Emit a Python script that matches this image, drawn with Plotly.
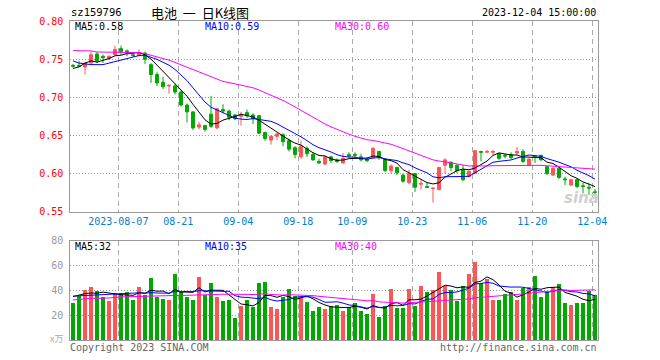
import plotly.graph_objects as go

# ---------------- data ----------------
opens = [0.742, 0.742, 0.740, 0.745, 0.757, 0.754, 0.751, 0.756, 0.764, 0.761,
         0.756, 0.755, 0.758, 0.743, 0.730, 0.720, 0.715, 0.715, 0.707, 0.690,
         0.681, 0.661, 0.663, 0.678, 0.660, 0.684, 0.682, 0.677, 0.675, 0.680,
         0.677, 0.676, 0.654, 0.644, 0.649, 0.651, 0.643, 0.634, 0.622, 0.633,
         0.625, 0.616, 0.6125, 0.622, 0.618, 0.614, 0.625, 0.625, 0.622, 0.619,
         0.621, 0.629, 0.619, 0.604, 0.608, 0.598, 0.588, 0.600, 0.586, 0.583,
         0.5805, 0.579, 0.611, 0.615, 0.611, 0.605, 0.596, 0.600, 0.629, 0.628,
         0.628, 0.626, 0.624, 0.625, 0.627, 0.629, 0.611, 0.623, 0.624, 0.609,
         0.598, 0.607, 0.593, 0.585, 0.592, 0.584, 0.582, 0.576]
highs = [0.744, 0.748, 0.746, 0.760, 0.759, 0.756, 0.755, 0.768, 0.768, 0.763,
         0.758, 0.763, 0.760, 0.745, 0.733, 0.727, 0.716, 0.718, 0.709, 0.692,
         0.682, 0.668, 0.664, 0.702, 0.686, 0.691, 0.684, 0.678, 0.681, 0.684,
         0.679, 0.677, 0.655, 0.650, 0.653, 0.653, 0.646, 0.636, 0.643, 0.636,
         0.628, 0.6195, 0.623, 0.623, 0.620, 0.627, 0.628, 0.628, 0.626, 0.621,
         0.635, 0.630, 0.620, 0.612, 0.609, 0.600, 0.605, 0.601, 0.592, 0.588,
         0.581, 0.609, 0.620, 0.616, 0.612, 0.611, 0.603, 0.631, 0.630, 0.631,
         0.631, 0.627, 0.626, 0.628, 0.635, 0.632, 0.620, 0.624, 0.625, 0.610,
         0.608, 0.608, 0.596, 0.593, 0.593, 0.588, 0.587, 0.580]
lows = [0.739, 0.740, 0.730, 0.744, 0.745, 0.745, 0.749, 0.755, 0.756, 0.754,
        0.753, 0.754, 0.744, 0.719, 0.715, 0.711, 0.705, 0.704, 0.688, 0.667,
        0.657, 0.658, 0.655, 0.660, 0.658, 0.679, 0.670, 0.670, 0.663, 0.673,
        0.665, 0.652, 0.643, 0.638, 0.644, 0.636, 0.629, 0.620, 0.619, 0.622,
        0.617, 0.6125, 0.611, 0.614, 0.614, 0.613, 0.621, 0.619, 0.616, 0.615,
        0.620, 0.618, 0.602, 0.600, 0.598, 0.588, 0.586, 0.576, 0.579, 0.581,
        0.562, 0.578, 0.600, 0.603, 0.601, 0.590, 0.595, 0.600, 0.616, 0.627,
        0.624, 0.618, 0.620, 0.619, 0.625, 0.614, 0.610, 0.614, 0.617, 0.598,
        0.597, 0.593, 0.585, 0.584, 0.581, 0.574, 0.572, 0.570]
closes = [0.741, 0.741, 0.745, 0.756, 0.748, 0.752, 0.754, 0.763, 0.760, 0.758,
          0.755, 0.758, 0.750, 0.730, 0.719, 0.714, 0.716, 0.707, 0.690, 0.681,
          0.660, 0.664, 0.658, 0.662, 0.685, 0.682, 0.674, 0.672, 0.677, 0.676,
          0.672, 0.653, 0.646, 0.649, 0.652, 0.642, 0.632, 0.625, 0.636, 0.626,
          0.618, 0.614, 0.622, 0.617, 0.616, 0.620, 0.623, 0.624, 0.618, 0.617,
          0.633, 0.621, 0.604, 0.610, 0.601, 0.590, 0.600, 0.582, 0.587, 0.582,
          0.581, 0.608, 0.618, 0.608, 0.604, 0.592, 0.603, 0.630, 0.628, 0.629,
          0.629, 0.620, 0.623, 0.621, 0.629, 0.616, 0.619, 0.622, 0.618, 0.600,
          0.607, 0.595, 0.592, 0.592, 0.583, 0.583, 0.581, 0.5755]
volumes = [30.3, 35.6, 40.4, 43.1, 39.6, 34.8, 31.9, 38.3, 38.3, 39.1,
           32.7, 43.1, 36.1, 50.1, 35.1, 33.5, 32.4, 53.5, 39.1, 35.1,
           32.4, 51.1, 36.4, 46.3, 35.1, 31.9, 32.7, 18.2, 27.8, 32.4,
           27.0, 46.3, 47.1, 26.8, 25.4, 34.8, 41.2, 35.6, 34.8, 31.1,
           23.8, 26.8, 25.4, 27.8, 28.4, 23.8, 26.5, 30.3, 23.8, 21.2,
           37.5, 19.0, 27.8, 41.2, 26.2, 26.2, 41.2, 27.8, 43.9, 38.6,
           40.4, 54.6, 43.9, 40.4, 31.6, 43.9, 53.3, 62.9, 45.8, 49.0,
           32.4, 32.4, 37.2, 38.8, 32.4, 42.3, 43.1, 51.9, 35.1, 38.8,
           42.6, 45.5, 30.3, 28.4, 30.3, 30.3, 39.6, 36.1]

# moving-average values before enough bars exist in the window
ma5_head = [0.738, 0.740, 0.745, 0.748]
ma10_head = [0.748, 0.745, 0.744, 0.743, 0.743, 0.743, 0.745, 0.747, 0.749]
ma30_head = [0.7614, 0.7614, 0.7614, 0.7610, 0.7596, 0.7596, 0.7596, 0.7596, 0.7596, 0.7596,
             0.7596, 0.7587, 0.7575, 0.7550, 0.7530, 0.7510, 0.7490, 0.7460, 0.7430, 0.7400,
             0.7370, 0.7330, 0.7300, 0.7270, 0.7240, 0.7210, 0.7195, 0.7180, 0.7165]
vma5_head = [35.1, 36.5, 37.5, 38.0]
vma10_head = [35.5, 35.7, 35.9, 36.1, 36.3, 36.5, 36.7, 36.9, 37.0]
vma30_head = [32.4, 33.0, 33.7, 33.7, 33.7, 33.7, 34.0, 34.5, 35.0, 35.1,
              35.1, 35.3, 35.5, 35.7, 35.9, 35.9, 35.9, 36.0, 36.0, 36.2,
              36.2, 36.5, 36.8, 37.0, 37.0, 37.0, 37.0, 36.8, 36.5]

tick_index = [8, 18, 28, 38, 47, 57, 67, 77, 87]
tick_labels = ["2023-08-07", "08-21", "09-04", "09-18", "10-09", "10-23", "11-06", "11-20", "12-04"]
price_ticks = [0.55, 0.60, 0.65, 0.70, 0.75, 0.80]
vol_ticks = [20, 40, 60, 80]

# ---------------- helpers ----------------
def moving_average(vals, n, head):
    out = []
    for i in range(len(vals)):
        if i < n - 1:
            out.append(head[i])
        else:
            out.append(sum(vals[i - n + 1:i + 1]) / n)
    return out

idx = list(range(len(closes)))
RED = "#FF5555"
GREEN = "#00A800"
MONO = "DejaVu Sans Mono"
W, H = 660, 360

def px(x):
    return x / W

def py(y):
    return 1 - y / H

fig = go.Figure()
fig.add_trace(go.Candlestick(
    x=idx, open=opens, high=highs, low=lows, close=closes,
    increasing=dict(line=dict(color=RED, width=1), fillcolor=RED),
    decreasing=dict(line=dict(color=GREEN, width=1), fillcolor=GREEN),
    whiskerwidth=0, xaxis="x", yaxis="y", hoverinfo="skip", showlegend=False))

for vals, n, head, col in [(closes, 5, ma5_head, "#000000"),
                           (closes, 10, ma10_head, "#0000FF"),
                           (closes, 30, ma30_head, "#FF00FF")]:
    fig.add_trace(go.Scatter(x=idx, y=moving_average(vals, n, head), mode="lines",
                             line=dict(color=col, width=1), xaxis="x", yaxis="y",
                             hoverinfo="skip", showlegend=False))

vol_colors = [RED if c >= o else GREEN for o, c in zip(opens, closes)]
fig.add_trace(go.Bar(x=idx, y=volumes, marker=dict(color=vol_colors, line=dict(width=0)),
                     width=0.83, xaxis="x2", yaxis="y2", hoverinfo="skip", showlegend=False))
for vals, n, head, col in [(volumes, 5, vma5_head, "#000000"),
                           (volumes, 10, vma10_head, "#0000FF"),
                           (volumes, 30, vma30_head, "#FF00FF")]:
    fig.add_trace(go.Scatter(x=idx, y=moving_average(vals, n, head), mode="lines",
                             line=dict(color=col, width=1), xaxis="x2", yaxis="y2",
                             hoverinfo="skip", showlegend=False))

xdom = [px(70.3), px(598.3)]
xrange_ = [-0.45, len(closes) - 0.45]
grid_x = [i - 0.45 for i in tick_index]

common_x = dict(domain=xdom, range=xrange_, showgrid=True, gridcolor="#AAAAAA",
                griddash="5px,4px", gridwidth=1, showline=True, mirror=True,
                linecolor="#999999", linewidth=1, zeroline=False, ticks="",
                fixedrange=True, automargin=False)

fig.update_layout(
    width=W, height=H, margin=dict(l=0, r=0, t=0, b=0, pad=0),
    paper_bgcolor="white", plot_bgcolor="white",
    xaxis=dict(**common_x, anchor="y", tickvals=grid_x, ticktext=tick_labels,
               tickfont=dict(family=MONO, size=10, color="#0080CC"),
               rangeslider=dict(visible=False)),
    yaxis=dict(domain=[py(211.7), py(21.2)], range=[0.55, 0.80], tickvals=price_ticks,
               ticktext=["%.2f" % v for v in price_ticks],
               tickfont=dict(family=MONO, size=10, color="#FF0000"),
               showgrid=True, gridcolor="#999999", griddash="1px,2px", gridwidth=1,
               showline=True, mirror=True, linecolor="#999999", zeroline=False,
               ticks="", ticklabelstandoff=4, anchor="x", fixedrange=True,
               automargin=False),
    xaxis2=dict(**common_x, anchor="y2", tickvals=grid_x, showticklabels=False),
    yaxis2=dict(domain=[py(340.3), py(240.7)], range=[0, 80], tickvals=vol_ticks,
                ticktext=[str(v) for v in vol_ticks],
                tickfont=dict(family=MONO, size=10, color="#999999"),
                showgrid=True, gridcolor="#999999", griddash="1px,2px", gridwidth=1,
                showline=True, mirror=True, linecolor="#999999", zeroline=False,
                ticks="", ticklabelstandoff=4, anchor="x2", fixedrange=True,
                automargin=False),
    bargap=0,
)

def note(text, x, y, anchor="left", color="#000000", size=10, family=MONO, **kw):
    fig.add_annotation(text=text, x=px(x), y=py(y), xref="paper", yref="paper",
                       xanchor=anchor, yanchor="middle", showarrow=False,
                       font=dict(family=family, size=size, color=color), **kw)

note("sz159796", 69, 12.5, size=10.5)
note("电池  一  日K线图", 200, 12.5, anchor="center", size=13, family="Noto Sans CJK SC")
note("2023-12-04 15:00:00", 598, 12.5, anchor="right", size=10)
note("MA5:0.58", 73, 26.5, size=10)
note("MA10:0.59", 203, 26.5, color="#0000FF", size=10)
note("MA30:0.60", 333, 26.5, color="#FF00FF", size=10)
note("MA5:32", 73, 246.5, size=10)
note("MA10:35", 203, 246.5, color="#0000FF", size=10)
note("MA30:40", 333, 246.5, color="#FF00FF", size=10)
note("x万", 65, 338, anchor="right", color="#AAAAAA", size=9, family="Noto Sans CJK SC")
note("Copyright 2023 SINA.COM", 68, 347, color="#666666", size=10)
note("http://finance.sina.com.cn", 599, 347, anchor="right", color="#666666", size=10)
fig.add_annotation(text="<b><i>sina</i></b>", x=px(581), y=py(198), xref="paper", yref="paper",
                   xanchor="center", yanchor="middle", showarrow=False,
                   font=dict(family="DejaVu Sans", size=15, color="#CFCFCF"))

# the default page body adds an 8px margin; remove it so the chart fills the window
fig.write_html("out.html", config={"displayModeBar": False, "staticPlot": True},
               post_script="document.body.style.margin='0px';")
